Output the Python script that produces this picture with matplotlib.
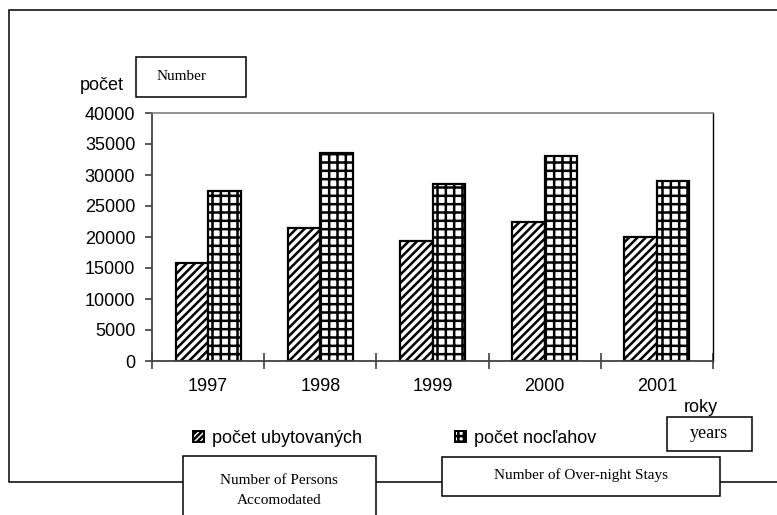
# Bar chart: accommodated persons vs. over-night stays, 1997-2001
import matplotlib
matplotlib.use('Agg')
import matplotlib.pyplot as plt
from matplotlib.patches import Rectangle, Patch
import numpy as np

plt.rcParams['font.family'] = ['Liberation Sans', 'DejaVu Sans']
plt.rcParams['hatch.linewidth'] = 1.8

# data
years = ['1997', '1998', '1999', '2000', '2001']
persons = [15800, 21400, 19400, 22400, 20000]
stays = [27400, 33500, 28600, 33000, 29000]
y_ticks = [0, 5000, 10000, 15000, 20000, 25000, 30000, 35000, 40000]

W, H = 777, 515
fig = plt.figure(figsize=(W / 100, H / 100), dpi=100)

# overlay in pixel coordinates for frame, boxes and loose labels
ov = fig.add_axes([0, 0, 1, 1], zorder=0)
ov.set_xlim(0, W)
ov.set_ylim(H, 0)
ov.axis('off')

# outer chart frame (right edge lies outside the picture)
ov.plot([W + 5, 8.5, 8.5, W + 5], [9.5, 9.5, 481.5, 481.5], color='black', lw=1.1,
        solid_joinstyle='miter')

def box(x0, y0, x1, y1):
    ov.add_patch(Rectangle((x0, y0), x1 - x0, y1 - y0, facecolor='white',
                           edgecolor='black', lw=1.1, zorder=3))

serif = ['Liberation Serif', 'DejaVu Serif']

box(136, 56.5, 245.5, 96.5)
ov.text(182, 76, 'Number', family=serif, fontsize=11, ha='center', va='center', zorder=4)
ov.text(102, 86, 'počet', fontsize=13, ha='center', va='center')

ov.text(701, 407, 'roky', fontsize=13, ha='center', va='center')
box(667, 417, 752, 451)
ov.text(709, 433, 'years', family=serif, fontsize=13, ha='center', va='center', zorder=4)

box(183, 455.5, 375.5, H + 5)
ov.text(279, 480, 'Number of Persons', family=serif, fontsize=11, ha='center', va='center', zorder=4)
ov.text(279, 501, 'Accomodated', family=serif, fontsize=11, ha='center', va='center', zorder=4)

box(442, 457, 720, 496)
ov.text(581, 475, 'Number of Over-night Stays', family=serif, fontsize=11,
        ha='center', va='center', zorder=4)

# main plot area
ax = fig.add_axes([152 / W, 1 - 361 / H, 561 / W, 248 / H], zorder=2)
x = np.arange(len(years))
bw = 0.29
ax.bar(x - bw / 2, persons, bw, facecolor='white', edgecolor='black', lw=1.6, hatch='////')
ax.bar(x + bw / 2, stays, bw, facecolor='white', edgecolor='black', lw=1.6, hatch='++')

ax.set_xlim(-0.5, len(years) - 0.5)
ax.set_ylim(0, 40000)
ax.set_yticks(y_ticks)
ax.set_yticklabels([str(v) for v in y_ticks])
ax.tick_params(axis='y', direction='out', length=5, width=1.2, color='#404040',
               labelsize=13, pad=7)

ax.set_xticks(np.arange(-0.5, len(years)), minor=False)
ax.set_xticklabels([])
ax.tick_params(axis='x', which='major', direction='inout', length=11, width=1.2, color='#404040')
ax.set_xticks(x, minor=True)
ax.set_xticklabels(years, minor=True)
ax.tick_params(axis='x', which='minor', length=0, labelsize=13, pad=12)

for s in ['left', 'bottom']:
    ax.spines[s].set_color('#404040')
    ax.spines[s].set_linewidth(1.3)
ax.spines['top'].set_color('#808080')
ax.spines['top'].set_linewidth(1.2)
ax.spines['right'].set_color('black')
ax.spines['right'].set_linewidth(1.0)

# two legend entries placed separately, as in the reference
h1 = Patch(facecolor='white', edgecolor='black', hatch='//////', lw=1.4)
h2 = Patch(facecolor='white', edgecolor='black', hatch='+++', lw=1.4)
for h, lab, px in [(h1, 'počet ubytovaných', 193), (h2, 'počet nocľahov', 455)]:
    fig.legend([h], [lab], loc='center left', bbox_to_anchor=(px / W, 1 - 438.5 / H),
               frameon=False, fontsize=13, handlelength=0.6, handleheight=0.6,
               handletextpad=0.45, borderpad=0, borderaxespad=0)

fig.savefig('out.png', dpi=100)
